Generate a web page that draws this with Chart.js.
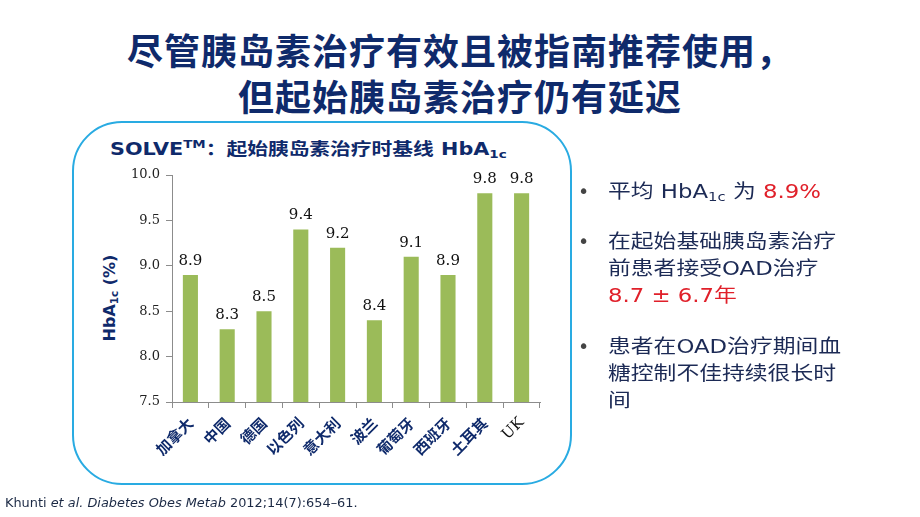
<!DOCTYPE html>
<html>
<head>
<meta charset="utf-8">
<script src="https://cdn.jsdelivr.net/npm/chart.js@4"></script>
<style>
  html, body { margin: 0; padding: 0; background: #fff; }
  #page { position: relative; width: 920px; height: 517px; overflow: hidden; font-family: "DejaVu Sans", "Noto Sans CJK SC", sans-serif; }
  .abs { position: absolute; white-space: nowrap; }
  #title { left: 0; width: 920px; top: 26px; text-align: center; font-family: "Noto Sans CJK SC", sans-serif; font-weight: 700; font-size: 36px; line-height: 46px; color: #0f2a6b; letter-spacing: 1px; }
  #box { left: 72px; top: 121px; width: 496px; height: 360px; border: 2.5px solid #29abe2; border-radius: 50px; }
  #chartTitle { left: 110px; top: 135px; font-family: "DejaVu Sans", "Noto Sans CJK SC", sans-serif; font-weight: 700; font-size: 17px; color: #0f2a6b; transform: scaleX(1.22); transform-origin: left center; }
  #chartTitle sup { font-size: 11px; vertical-align: 7px; }
  #chartTitle sub, #yTitle sub, .bul sub { font-size: 0.65em; vertical-align: -3px; }
  #yTitle { left: 110px; top: 298px; transform: translate(-50%, -50%) rotate(-90deg); font-weight: 700; font-size: 16px; color: #0f2a6b; }
  .bul { left: 608px; font-size: 19px; line-height: 27px; color: #1c2a55; font-family: "DejaVu Sans", "Noto Sans CJK SC", sans-serif; transform: scaleX(1.2); transform-origin: left top; }
  .dot { left: 578px; font-size: 19px; line-height: 27px; color: #444; }
  .red { color: #e0202a; }
  #cite { left: 5px; top: 496px; font-size: 11.5px; color: #1c2a45; transform: scaleX(1.12); transform-origin: left top; }
  canvas { position: absolute; left: 0; top: 0; }
</style>
</head>
<body>
<div id="page">
  <div id="box" class="abs"></div>
  <div id="title" class="abs">尽管胰岛素治疗有效且被指南推荐使用，<br>但起始胰岛素治疗仍有延迟</div>
  <div id="chartTitle" class="abs">SOLVE<sup>TM</sup>：起始胰岛素治疗时基线 HbA<sub>1c</sub></div>
  <div id="yTitle" class="abs">HbA<sub>1c</sub> (%)</div>
  <canvas id="chart" width="920" height="517"></canvas>
  <div class="abs dot" style="top:178px">•</div>
  <div class="abs dot" style="top:228px">•</div>
  <div class="abs dot" style="top:333px">•</div>
  <div class="abs bul" style="top:178px">平均 HbA<sub>1c</sub> 为 <span class="red">8.9%</span></div>
  <div class="abs bul" style="top:228px">在起始基础胰岛素治疗<br>前患者接受OAD治疗<br><span class="red">8.7 ± 6.7年</span></div>
  <div class="abs bul" style="top:333px">患者在OAD治疗期间血<br>糖控制不佳持续很长时<br>间</div>
  <div id="cite" class="abs">Khunti <i>et al. Diabetes Obes Metab</i> 2012;14(7):654–61.</div>
</div>
<script>
// countries and baseline HbA1c (%)
const countries = ['加拿大', '中国', '德国', '以色列', '意大利', '波兰', '葡萄牙', '西班牙', '土耳其', 'UK'];
const hba1c = [8.9, 8.3, 8.5, 9.4, 9.2, 8.4, 9.1, 8.9, 9.8, 9.8];
const yTicks = [7.5, 8.0, 8.5, 9.0, 9.5, 10.0];

const navy = '#0f2a6b';

// draw the number above each bar
const valueLabels = {
  id: 'valueLabels',
  afterDatasetsDraw(chart) {
    const ctx = chart.ctx;
    const meta = chart.getDatasetMeta(0);
    ctx.save();
    ctx.font = '15px "DejaVu Serif", serif';
    ctx.fillStyle = '#111';
    ctx.textAlign = 'center';
    ctx.textBaseline = 'alphabetic';
    meta.data.forEach((bar, i) => {
      ctx.fillText(hba1c[i].toFixed(1), bar.x, bar.y - 10);
    });
    ctx.restore();
  }
};

new Chart(document.getElementById('chart'), {
  type: 'bar',
  data: {
    labels: countries,
    datasets: [{
      data: hba1c,
      backgroundColor: '#9bbb59',
      categoryPercentage: 1.0,
      barPercentage: 0.41
    }]
  },
  options: {
    responsive: false,
    animation: false,
    layout: { padding: { left: 0, top: 175, right: 380, bottom: 0 } },
    plugins: { legend: { display: false }, tooltip: { enabled: false } },
    scales: {
      y: {
        min: 7.5,
        max: 10,
        afterFit(scale) { scale.width = 172; },
        afterBuildTicks(scale) { scale.ticks = yTicks.map(v => ({ value: v })); },
        grid: { drawOnChartArea: false, drawTicks: true, tickLength: 6, color: '#8c8c8c' },
        border: { color: '#8c8c8c' },
        ticks: {
          padding: 6,
          color: '#222',
          font: { family: '"DejaVu Serif", serif', size: 13 },
          callback: v => Number(v).toFixed(1)
        }
      },
      x: {
        afterFit(scale) { scale.height = 115; },
        grid: { drawOnChartArea: false, drawTicks: true, tickLength: 6, color: '#8c8c8c', offset: true },
        border: { color: '#8c8c8c' },
        ticks: {
          minRotation: 45,
          maxRotation: 45,
          padding: 6,
          color: ctx => countries[ctx.index] === 'UK' ? '#111' : navy,
          font: ctx => countries[ctx.index] === 'UK'
            ? { family: '"DejaVu Serif", serif', size: 15 }
            : { family: '"Noto Sans CJK SC", sans-serif', size: 15, weight: 'bold' }
        }
      }
    }
  },
  plugins: [valueLabels]
});
</script>
</body>
</html>
